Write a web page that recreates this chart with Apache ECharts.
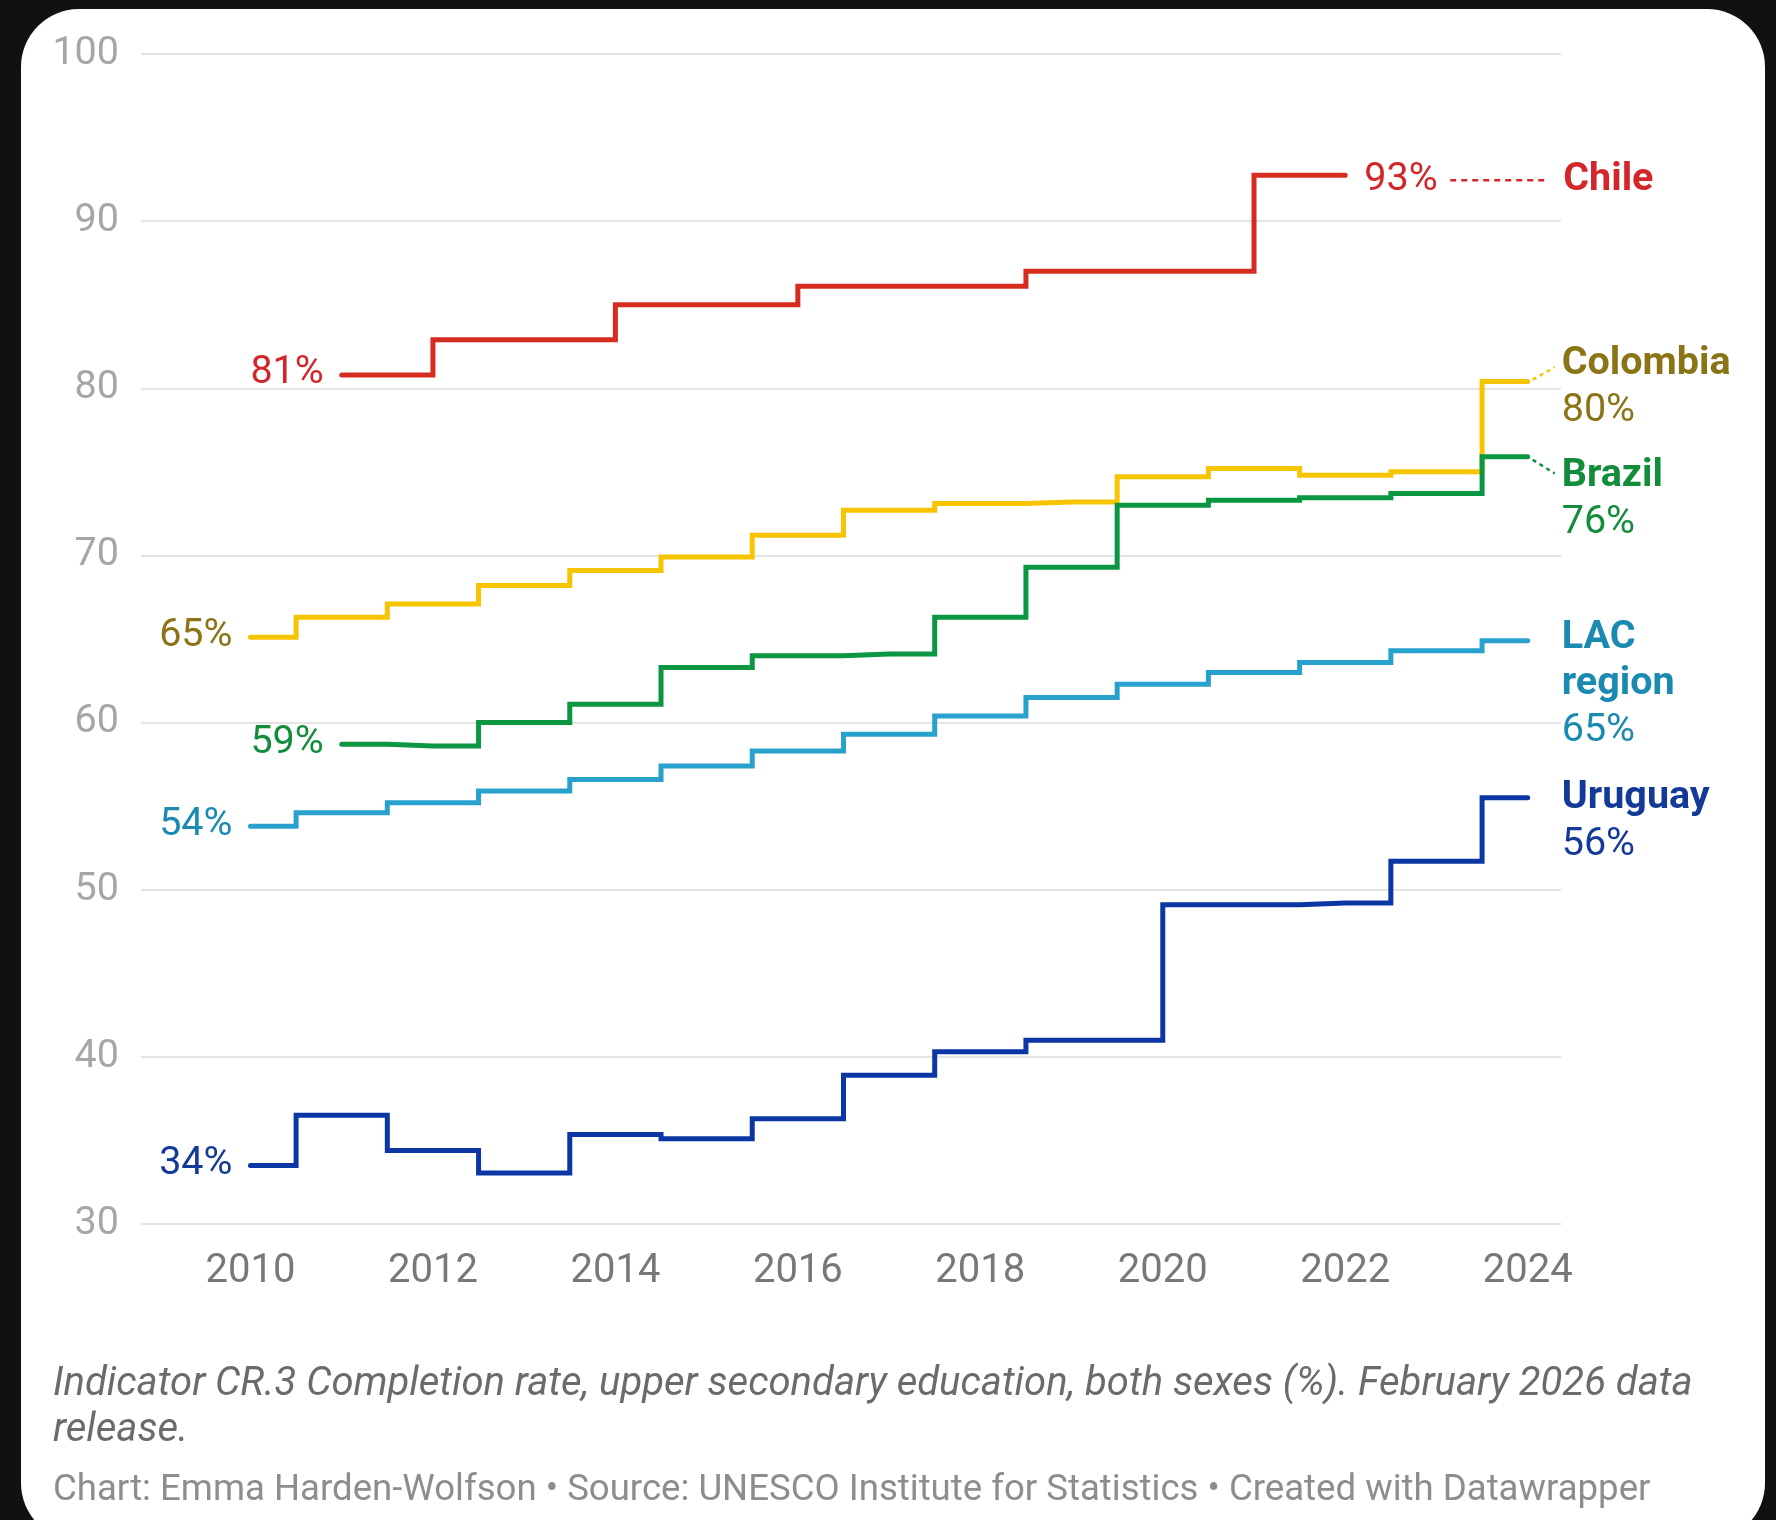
<!DOCTYPE html>
<html>
<head>
<meta charset="utf-8">
<script src="https://cdn.jsdelivr.net/npm/echarts@6/dist/echarts.min.js"></script>
<style>
html,body{margin:0;padding:0;width:1776px;height:1520px;overflow:hidden;background:#131010;}
#card{position:absolute;left:21px;top:9px;width:1744px;height:1532px;border-radius:58px;background:#ffffff;}
#chart{position:absolute;left:0;top:0;width:1776px;height:1520px;}
</style>
</head>
<body>
<div id="card"></div>
<div id="chart"></div>
<script>
// ---- data ----
const tickYears = [2010, 2012, 2014, 2016, 2018, 2020, 2022, 2024];
const yTicks = [30, 40, 50, 60, 70, 80, 90, 100];

const chileYears = [2011, 2013, 2015, 2017, 2020, 2022];
const chile = [80.8, 82.9, 85.0, 86.1, 87.0, 92.75];

const colombiaYears = [2010, 2011, 2012, 2013, 2014, 2015, 2016, 2017, 2018, 2019, 2020, 2021, 2022, 2023, 2024];
const colombia = [65.1, 66.3, 67.1, 68.2, 69.1, 69.9, 71.2, 72.7, 73.1, 73.2, 74.7, 75.2, 74.8, 75.0, 80.4];

const brazilYears = [2011, 2012, 2013, 2014, 2015, 2016, 2017, 2018, 2019, 2020, 2021, 2022, 2023, 2024];
const brazil = [58.7, 58.6, 60.0, 61.1, 63.3, 64.0, 64.1, 66.3, 69.3, 73.0, 73.3, 73.45, 73.7, 75.9];

const lacYears = [2010, 2011, 2012, 2013, 2014, 2015, 2016, 2017, 2018, 2019, 2020, 2021, 2022, 2023, 2024];
const lac = [53.8, 54.6, 55.2, 55.9, 56.6, 57.4, 58.3, 59.3, 60.4, 61.5, 62.3, 63.0, 63.6, 64.3, 64.9];

const uruguayYears = [2010, 2011, 2012, 2013, 2014, 2015, 2016, 2017, 2018, 2019, 2021, 2022, 2023, 2024];
const uruguay = [33.5, 36.5, 34.4, 33.05, 35.35, 35.1, 36.3, 38.9, 40.3, 41.0, 49.1, 49.2, 51.7, 55.5];

const captionLines = [
  'Indicator CR.3 Completion rate, upper secondary education, both sexes (%). February 2026 data',
  'release.'
];
const creditLine = 'Chart: Emma Harden-Wolfson \u2022 Source: UNESCO Institute for Statistics \u2022 Created with Datawrapper';

// ---- styling ----
const seriesDefs = [
  {name: 'LAC region', years: lacYears, values: lac, line: '#29a1cd', text: '#1b8ab0', nameLines: ['LAC', 'region'], dy: -3},
  {name: 'Uruguay', years: uruguayYears, values: uruguay, line: '#0b36a3', text: '#143a97', nameLines: ['Uruguay'], dy: 0.5},
  {name: 'Colombia', years: colombiaYears, values: colombia, line: '#f7c500', text: '#8a7416', nameLines: ['Colombia'], dy: -17, connector: true},
  {name: 'Brazil', years: brazilYears, values: brazil, line: '#0b9641', text: '#138c3c', nameLines: ['Brazil'], dy: 19.5, connector: true},
  {name: 'Chile', years: chileYears, values: chile, line: '#d62b1f', text: '#d3262b', inline: true}
];

const FONT = 'Roboto';
const LBL = 39.5;
const chart = echarts.init(document.getElementById('chart'), null, {renderer: 'canvas'});

const option = {
  backgroundColor: 'transparent',
  animation: false,
  grid: {left: 141, right: 215, top: 54, bottom: 296, containLabel: false, outerBoundsMode: 'none'},
  xAxis: {
    type: 'value',
    min: 2008.8,
    max: 2024.365,
    axisLine: {show: false},
    axisTick: {show: false},
    splitLine: {show: false},
    axisLabel: {
      customValues: tickYears,
      formatter: v => String(v),
      color: '#787878',
      fontFamily: FONT,
      fontSize: 40,
      margin: 28
    }
  },
  yAxis: {
    type: 'value',
    min: 30,
    max: 100,
    interval: 10,
    axisLine: {show: false},
    axisTick: {show: false},
    splitLine: {show: true, lineStyle: {color: '#e4e4e4', width: 2}},
    axisLabel: {
      color: '#a6a6a6',
      fontFamily: FONT,
      fontSize: LBL,
      margin: 22,
      padding: [5, 0, 0, 0],
      formatter: v => String(v)
    }
  },
  series: seriesDefs.map(s => ({
    name: s.name,
    type: 'line',
    step: 'middle',
    showSymbol: false,
    symbol: 'none',
    silent: true,
    lineStyle: {color: s.line, width: 5, cap: 'round', join: 'miter'},
    data: s.years.map((y, i) => [y, s.values[i]])
  }))
};
chart.setOption(option);

function px(x, y) { return chart.convertToPixel({gridIndex: 0}, [x, y]); }

const graphics = [];
const LINE_GAP = 46.5;
seriesDefs.forEach(s => {
  const n = s.values.length;
  const first = px(s.years[0], s.values[0]);
  const last = px(s.years[n - 1], s.values[n - 1]);
  // left start label
  graphics.push({
    type: 'text', x: first[0] - 18, y: first[1] - 1.5, silent: true,
    style: {text: Math.round(s.values[0]) + '%', fill: s.text, fontFamily: FONT, fontSize: LBL, align: 'right', verticalAlign: 'middle'}
  });
  const endVal = Math.round(s.values[n - 1]) + '%';
  if (s.inline) {
    const yy = last[1] + 5;
    graphics.push({
      type: 'text', x: last[0] + 19, y: yy, silent: true,
      style: {text: endVal, fill: s.text, fontFamily: FONT, fontSize: LBL, align: 'left', verticalAlign: 'middle'}
    });
    graphics.push({
      type: 'line', silent: true,
      shape: {x1: last[0] + 105, y1: yy, x2: last[0] + 201, y2: yy},
      style: {stroke: s.text, lineWidth: 2.5, lineDash: [6, 5]}
    });
    graphics.push({
      type: 'text', x: last[0] + 218, y: yy, silent: true,
      style: {text: s.name, fill: s.text, fontFamily: FONT, fontSize: LBL, fontWeight: 'bold', align: 'left', verticalAlign: 'middle'}
    });
  } else {
    const x0 = last[0] + 34;
    let yy = last[1] + s.dy;
    s.nameLines.forEach((t, i) => {
      graphics.push({
        type: 'text', x: x0, y: yy + i * LINE_GAP, silent: true,
        style: {text: t, fill: s.text, fontFamily: FONT, fontSize: LBL, fontWeight: 'bold', align: 'left', verticalAlign: 'middle'}
      });
    });
    graphics.push({
      type: 'text', x: x0, y: yy + s.nameLines.length * LINE_GAP, silent: true,
      style: {text: endVal, fill: s.text, fontFamily: FONT, fontSize: LBL, align: 'left', verticalAlign: 'middle'}
    });
    if (s.connector) {
      graphics.push({
        type: 'line', silent: true,
        shape: {x1: last[0] + 5, y1: last[1] + (s.dy > 0 ? 3 : -2), x2: last[0] + 27, y2: last[1] + s.dy * 0.85},
        style: {stroke: s.dy > 0 ? s.text : s.line, lineWidth: 2.5, lineDash: [4, 4]}
      });
    }
  }
});

// caption and credits
captionLines.forEach((t, i) => {
  graphics.push({
    type: 'text', x: 53, y: 1384.5 + i * 46.5, silent: true,
    style: {text: t, fill: '#6b6b6b', fontFamily: FONT, fontSize: 40, fontStyle: 'italic', align: 'left', verticalAlign: 'middle'}
  });
});
graphics.push({
  type: 'text', x: 53, y: 1491, silent: true,
  style: {text: creditLine, fill: '#8d8d8d', fontFamily: FONT, fontSize: 36.6, align: 'left', verticalAlign: 'middle'}
});

chart.setOption({graphic: {elements: graphics}});
</script>
</body>
</html>
